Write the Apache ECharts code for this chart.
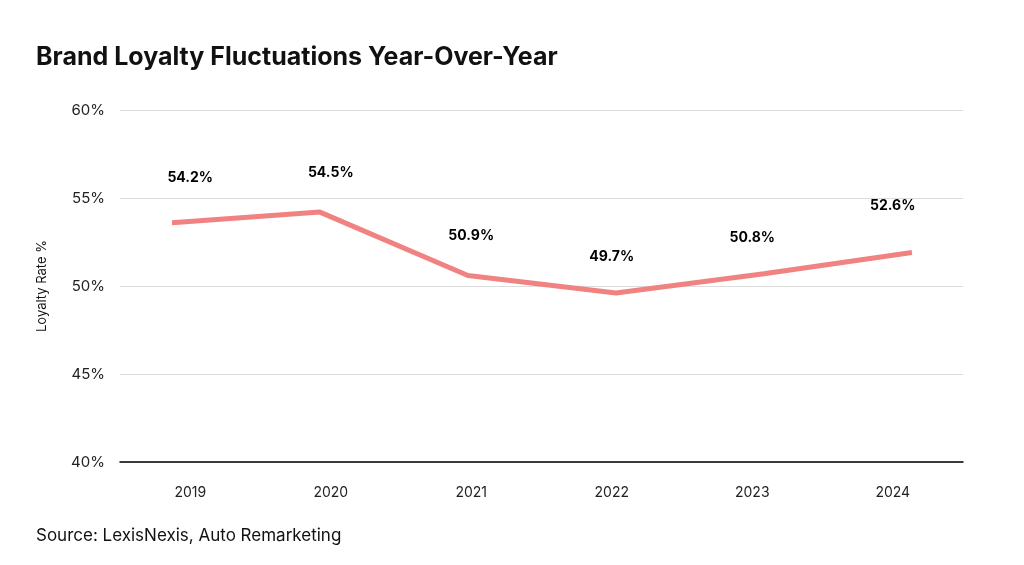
<!DOCTYPE html>
<html>
<head>
<meta charset="utf-8">
<script src="https://cdn.jsdelivr.net/npm/echarts@6/dist/echarts.min.js"></script>
<style>
  html, body { margin: 0; padding: 0; background: #fff; }
  #chart { width: 1024px; height: 565px; }
</style>
</head>
<body>
<div id="chart"></div>
<script>
var years = ['2019', '2020', '2021', '2022', '2023', '2024'];
// where the line is drawn in the picture
var loyalty = [53.6, 54.2, 50.6, 49.6, 50.7, 51.9];
// printed values above each year
var labelValues = [54.2, 54.5, 50.9, 49.7, 50.8, 52.6];
var yTicks = [40, 45, 50, 55, 60];

// the line in the picture runs a little wider than the year columns,
// so it sits on its own hidden value axis
var linePoints = loyalty.map(function (v, i) { return [i, v]; });

var myChart = echarts.init(document.getElementById('chart'));
var option = {
    backgroundColor: '#fff',
    textStyle: { fontFamily: 'Inter' },
    title: [
        {
            text: 'Brand Loyalty Fluctuations Year-Over-Year',
            left: 31,
            top: 40,
            textStyle: { fontSize: 25, fontWeight: 'bold', color: '#111', fontFamily: 'Inter' }
        },
        {
            text: 'Source: LexisNexis, Auto Remarketing',
            left: 31,
            top: 522,
            textStyle: { fontSize: 17, fontWeight: 'normal', color: '#111', fontFamily: 'Inter' }
        }
    ],
    grid: { left: 120, right: 61, top: 110, bottom: 103 },
    xAxis: [
        {
            type: 'category',
            data: years,
            boundaryGap: true,
            axisLine: { show: true, lineStyle: { color: '#000', width: 1.5 } },
            axisTick: { show: false },
            axisLabel: { margin: 24, fontSize: 14, color: '#222', fontFamily: 'Inter' }
        },
        {
            type: 'value',
            min: -0.351,
            max: 5.345,
            show: false
        }
    ],
    yAxis: {
        type: 'value',
        min: yTicks[0],
        max: yTicks[yTicks.length - 1],
        interval: 5,
        name: 'Loyalty Rate %',
        nameLocation: 'middle',
        nameGap: 71,
        nameTextStyle: { fontSize: 13, color: '#111', fontFamily: 'Inter' },
        axisLine: { show: false },
        axisTick: { show: false },
        splitLine: { lineStyle: { color: '#dcdcdc', width: 1 } },
        axisLabel: {
            margin: 15,
            fontSize: 15,
            color: '#222',
            fontFamily: 'Inter',
            formatter: function (v) { return v + '%'; }
        }
    },
    series: [
        {
            type: 'line',
            xAxisIndex: 1,
            data: linePoints,
            symbol: 'none',
            lineStyle: { color: '#f08282', width: 5 },
            emphasis: { disabled: true },
            z: 2
        },
        {
            type: 'scatter',
            xAxisIndex: 0,
            data: labelValues,
            symbolSize: 2,
            itemStyle: { color: 'rgba(255,255,255,0)' },
            label: {
                show: true,
                position: 'top',
                distance: 26,
                fontSize: 14,
                fontWeight: 'bold',
                color: '#000',
                opacity: 1,
                fontFamily: 'Inter',
                formatter: function (p) { return p.value + '%'; }
            },
            emphasis: { disabled: true },
            z: 3
        }
    ],
    animation: false
};
myChart.setOption(option);
</script>
</body>
</html>
